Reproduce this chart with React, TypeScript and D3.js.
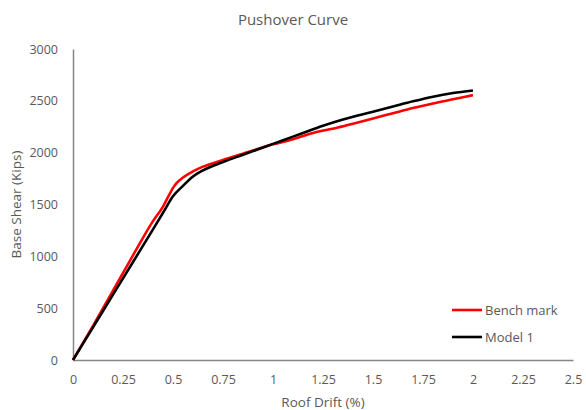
import React, { useEffect, useRef } from 'react';
import * as d3 from 'd3';

// Bench mark curve (roof drift %, base shear kips)
const benchDrift = [0, 0.1, 0.2, 0.3, 0.4, 0.45, 0.48, 0.5, 0.52, 0.55, 0.6, 0.65, 0.75, 0.85, 1.0, 1.1, 1.2, 1.32, 1.4, 1.5, 1.6, 1.7, 1.8, 1.9, 2.0];
const benchShear = [0, 330, 670, 1010, 1340, 1480, 1590, 1660, 1710, 1760, 1820, 1865, 1930, 1990, 2080, 2130, 2190, 2240, 2280, 2330, 2380, 2430, 2475, 2515, 2555];

// Model 1 curve
const modelDrift = [0, 0.1, 0.2, 0.3, 0.4, 0.45, 0.5, 0.55, 0.6, 0.65, 0.75, 0.85, 0.95, 1.05, 1.15, 1.25, 1.35, 1.5, 1.6, 1.7, 1.8, 1.9, 2.0];
const modelShear = [0, 315, 630, 945, 1260, 1420, 1580, 1680, 1770, 1830, 1910, 1980, 2050, 2120, 2190, 2260, 2320, 2395, 2445, 2495, 2540, 2575, 2600];

const xTicks = [0, 0.25, 0.5, 0.75, 1, 1.25, 1.5, 1.75, 2, 2.25, 2.5];
const yTicks = [0, 500, 1000, 1500, 2000, 2500, 3000];

const series = [
  { name: 'Bench mark', color: '#ff0000', xs: benchDrift, ys: benchShear },
  { name: 'Model 1', color: '#000000', xs: modelDrift, ys: modelShear },
];

const W = 586;
const H = 410;
const FONT = "'Open Sans', 'Noto Sans', sans-serif";
const TEXT = '#595959';

const App: React.FC = () => {
  const svgRef = useRef<SVGSVGElement>(null);

  useEffect(() => {
    document.body.style.margin = '0';
    if (!svgRef.current) return;
    const svg = d3.select(svgRef.current);
    svg.selectAll('*').remove();

    const x = d3.scaleLinear().domain([0, 2.5]).range([73, 573]);
    const y = d3.scaleLinear().domain([0, 3000]).range([360, 49]);

    // axes
    const xAxis = svg.append('g').attr('transform', `translate(0,${y(0)})`)
      .call(d3.axisBottom(x).tickValues(xTicks).tickSize(0).tickPadding(15)
        .tickFormat(d => String(d)));
    const yAxis = svg.append('g').attr('transform', `translate(${x(0)},0)`)
      .call(d3.axisLeft(y).tickValues(yTicks).tickSize(0).tickPadding(15)
        .tickFormat(d => String(d)));
    [xAxis, yAxis].forEach(a => {
      a.select('.domain').attr('stroke', '#868686').attr('stroke-width', 1.5);
      a.selectAll('text').attr('fill', TEXT).style('font-family', FONT).style('font-size', '12.5px');
    });
    xAxis.selectAll('text').attr('dy', '0.71em');

    // lines
    const line = d3.line<[number, number]>()
      .x(d => x(d[0]))
      .y(d => y(d[1]))
      .curve(d3.curveMonotoneX);
    series.forEach(s => {
      const pts = s.xs.map((v, i) => [v, s.ys[i]] as [number, number]);
      svg.append('path')
        .datum(pts)
        .attr('fill', 'none')
        .attr('stroke', s.color)
        .attr('stroke-width', 2.6)
        .attr('stroke-linejoin', 'round')
        .attr('d', line);
    });

    // titles
    svg.append('text').attr('x', 293).attr('y', 25).attr('text-anchor', 'middle')
      .attr('fill', TEXT).style('font-family', FONT).style('font-size', '15px')
      .text('Pushover Curve');
    svg.append('text').attr('x', 323).attr('y', 407).attr('text-anchor', 'middle')
      .attr('fill', TEXT).style('font-family', FONT).style('font-size', '13.5px')
      .text('Roof Drift (%)');
    svg.append('text').attr('transform', `translate(21,${y(1500)}) rotate(-90)`)
      .attr('text-anchor', 'middle')
      .attr('fill', TEXT).style('font-family', FONT).style('font-size', '13.5px')
      .text('Base Shear (Kips)');

    // legend
    const legend = svg.append('g').attr('transform', 'translate(452,310)');
    series.forEach((s, i) => {
      const g = legend.append('g').attr('transform', `translate(0,${i * 27})`);
      g.append('line').attr('x1', 0).attr('x2', 30).attr('y1', 0).attr('y2', 0)
        .attr('stroke', s.color).attr('stroke-width', 2.6);
      g.append('text').attr('x', 33).attr('y', 0).attr('dy', '0.35em')
        .attr('fill', TEXT).style('font-family', FONT).style('font-size', '13px')
        .text(s.name);
    });
  }, []);

  return <svg ref={svgRef} width={W} height={H} style={{ display: 'block', background: '#fff' }} />;
};

export default App;
